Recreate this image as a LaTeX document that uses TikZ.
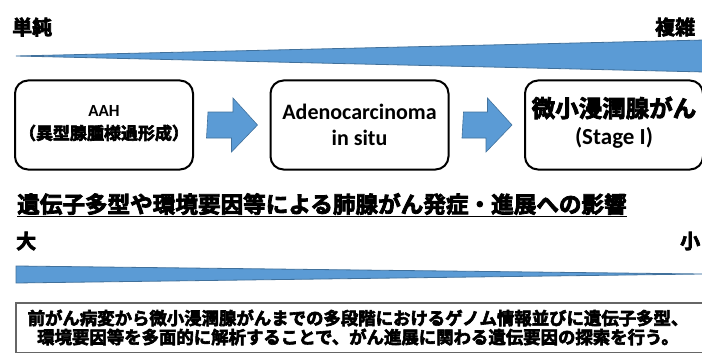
\documentclass[tikz,border=0pt]{standalone}
\usepackage{fontspec}
\setmainfont{Carlito}
\newfontfamily\jp[FakeBold=3.5]{Noto Sans CJK JP Bold}
\usetikzlibrary{calc}
\definecolor{blu}{HTML}{5B9BD5}
\definecolor{bluedge}{HTML}{41719C}
\tikzset{
  stagebox/.style={draw=black, line width=2pt, rounded corners=13pt, minimum width=178pt, minimum height=89pt, inner sep=0pt},
  entext/.style={inner sep=0pt, font=\bfseries\fontsize{#1}{#1}\selectfont},
  jptext/.style={inner sep=0pt, font=\jp\fontsize{#1}{#1}\selectfont},
  blockarrow/.style={fill=blu, draw=bluedge, line width=0.6pt},
  wedge/.style={fill=blu, draw=bluedge, line width=0.8pt},
}
\begin{document}
\begin{tikzpicture}[x=1pt,y=-1pt]
\useasboundingbox (0,0) rectangle (702,353);
\fill[white] (0,0) rectangle (702,353);
% top labels
\node[jptext=20, anchor=west] (simple) at (12,27) {単純};
\node[jptext=20, anchor=west] (complex) at (655,27) {複雑};
% top wedge
\coordinate (tw1) at (16,56);
\coordinate (tw2) at (705,40);
\coordinate (tw3) at (705,72);
\draw[wedge] (tw1) -- (tw2) -- (tw3) -- cycle;
% boxes
\node[stagebox] (aah) at (104,125) {};
\node[stagebox] (ais) at (359.5,125) {};
\node[stagebox] (mia) at (614,125) {};
\node[entext=17] (aah1) at (104,111) {AAH};
\node[jptext=17] (aah2) at (104,133) {（異型腺腫様過形成）};
\node[entext=22] (ais1) at (359.5,112) {Adenocarcinoma};
\node[entext=22] (ais2) at (359.5,138) {in situ};
\node[jptext=23.5] (mia1) at (614,108) {微小浸潤腺がん};
\node[entext=23] (mia2) at (614,138) {(Stage I)};
% block arrows
\draw[blockarrow] ($(aah.east)+(14,-13)$) -- ++(25,0) -- ++(0,-14) -- ($(ais.west)+(-12,0)$) -- ++(-26,27) -- ++(0,-14) -- ++(-25,0) -- cycle;
\draw[blockarrow] ($(ais.east)+(14,-13)$) -- ++(24,0) -- ++(0,-14) -- ($(mia.west)+(-12,0)$) -- ++(-26,27) -- ++(0,-14) -- ++(-24,0) -- cycle;
% heading
\node[jptext=22.6, anchor=west] (head) at (17,205) {\underline{遺伝子多型や環境要因等による肺腺がん発症・進展への影響}};
\node[jptext=20, anchor=west] (large) at (16,241) {大};
\node[jptext=20, anchor=west] (small) at (680,241) {小};
% bottom wedge
\coordinate (bw1) at (16,266);
\coordinate (bw2) at (16,283);
\coordinate (bw3) at (702,274);
\draw[wedge] (bw1) -- (bw3) -- (bw2) -- cycle;
% bottom box
\node[draw=gray!80!black, line width=1.6pt, minimum width=700pt, minimum height=50pt, anchor=north west, inner sep=0pt] (summary) at (15,302) {};
\node[jptext=17.4] (sum1) at (358,318) {前がん病変から微小浸潤腺がんまでの多段階におけるゲノム情報並びに遺伝子多型、};
\node[jptext=17.4] (sum2) at (358,337) {環境要因等を多面的に解析することで、がん進展に関わる遺伝要因の探索を行う。};
\end{tikzpicture}
\end{document}
